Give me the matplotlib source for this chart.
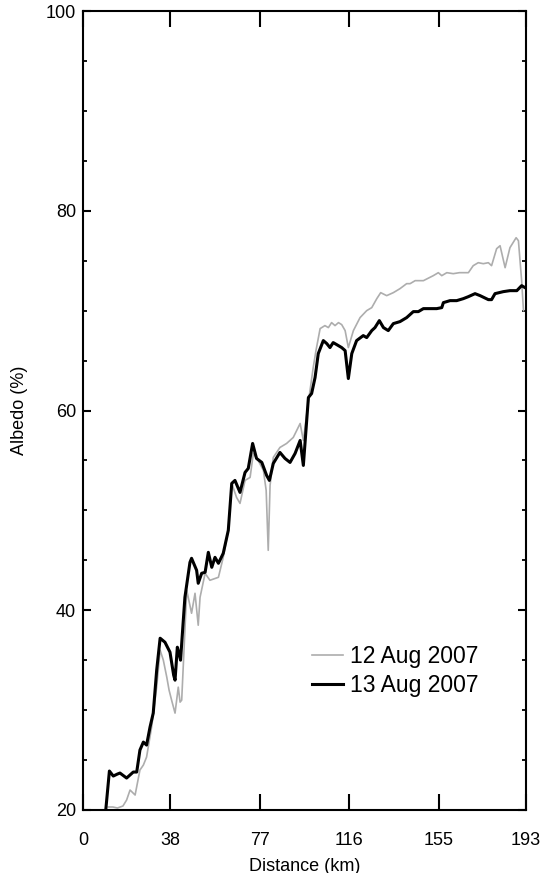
import matplotlib
matplotlib.use("Agg")
import matplotlib.pyplot as plt
from matplotlib.ticker import MultipleLocator, FixedLocator

plt.rcParams['font.family'] = ['Liberation Sans', 'DejaVu Sans']

# 13 Aug 2007 (black)
dist_13 = [10.0, 11.5, 13.2, 15.0, 16.1, 19.0, 21.9, 23.4, 24.8, 26.3, 27.7, 29.2, 30.6, 32.1,
           33.6, 35.7, 37.9, 39.5, 40.1, 41.1, 42.0, 42.5, 43.7, 44.4, 46.6, 47.3, 49.5, 50.2,
           51.7, 53.2, 54.6, 56.1, 57.5, 59.0, 61.1, 63.3, 64.8, 66.2, 68.4, 70.6, 72.0, 73.9,
           75.6, 77.9, 80.0, 81.2, 82.9, 85.8, 88.0, 90.2, 92.4, 94.6, 96.0, 98.2, 99.6, 101.1,
           102.5, 104.7, 106.2, 107.6, 109.0, 110.5, 112.7, 114.2, 115.6, 117.1, 119.2, 122.1,
           123.6, 125.8, 127.2, 129.1, 130.9, 133.0, 135.2, 138.1, 141.0, 143.9, 146.1, 148.3,
           151.2, 154.1, 156.3, 157.0, 159.9, 162.8, 165.7, 167.9, 170.8, 173.0, 176.6, 178.0,
           179.5, 183.1, 186.0, 189.0, 191.1, 192.6]
alb_13 = [20.2, 23.9, 23.4, 23.6, 23.7, 23.2, 23.8, 23.8, 26.0, 26.8, 26.5, 28.3, 29.7, 34.0,
          37.2, 36.8, 35.8, 33.5, 33.0, 36.3, 35.5, 35.0, 39.0, 41.3, 44.8, 45.2, 44.0, 42.7,
          43.7, 43.8, 45.8, 44.3, 45.3, 44.7, 45.7, 48.0, 52.7, 53.0, 51.8, 53.8, 54.2, 56.7,
          55.2, 54.8, 53.5, 53.0, 54.7, 55.8, 55.2, 54.8, 55.7, 57.0, 54.5, 61.3, 61.7, 63.3,
          65.7, 67.0, 66.7, 66.3, 66.8, 66.6, 66.3, 66.0, 63.2, 65.7, 67.0, 67.5,
          67.3, 68.0, 68.3, 69.0, 68.3, 68.0, 68.7, 68.9, 69.3, 69.9, 69.9, 70.2,
          70.2, 70.2, 70.3, 70.8, 71.0, 71.0, 71.2, 71.4, 71.7, 71.5, 71.1, 71.1,
          71.7, 71.9, 72.0, 72.0, 72.5, 72.3]

# 12 Aug 2007 (gray)
dist_12 = [11.0, 13.0, 15.0, 17.4, 19.0, 20.5, 22.7, 24.8, 26.3, 27.7, 29.9, 32.1, 33.6, 35.0,
           36.5, 37.5, 38.6, 40.1, 41.5, 42.3, 43.0, 45.2, 47.3, 48.8, 50.2, 51.0, 53.2, 55.3,
           59.0, 61.1, 63.3, 64.8, 66.9, 68.4, 70.6, 72.8, 74.2, 76.3, 78.6, 79.8, 80.7, 81.5,
           82.9, 85.8, 88.7, 91.6, 94.6, 96.0, 97.5, 98.9, 100.3, 101.5, 103.3, 105.4, 106.9,
           108.3, 109.8, 111.3, 112.7, 114.2, 115.6, 117.8, 120.7, 123.6, 125.8, 128.0, 129.7,
           132.3, 135.2, 138.1, 141.0, 142.5, 144.7, 146.1, 148.3, 152.6, 154.8, 156.3, 158.5,
           161.3, 164.0, 167.9, 170.0, 172.2, 174.4, 176.6, 178.0, 180.2, 181.7, 183.9, 186.0,
           188.7, 189.7, 191.1, 191.9]
alb_12 = [20.3, 20.3, 20.2, 20.4, 21.0, 22.0, 21.5, 24.0, 24.5, 25.3, 28.3, 32.3, 36.0, 35.0,
          33.3, 32.0, 31.0, 29.7, 32.3, 30.8, 31.0, 42.0, 39.7, 41.7, 38.5, 41.3, 43.7, 43.0,
          43.3, 45.3, 48.0, 52.7, 51.3, 50.7, 53.0, 53.3, 55.7, 55.0, 54.0, 52.0, 46.0, 52.5,
          55.3, 56.3, 56.7, 57.3, 58.7, 57.0, 59.7, 62.0, 64.3, 66.0, 68.2, 68.5, 68.3,
          68.8, 68.5, 68.8, 68.6, 68.0, 66.3, 68.0, 69.3, 70.0, 70.3, 71.2, 71.8,
          71.5, 71.8, 72.2, 72.7, 72.7, 73.0, 73.0, 73.0, 73.5, 73.8, 73.5, 73.8,
          73.7, 73.8, 73.8, 74.5, 74.8, 74.7, 74.8, 74.5, 76.2, 76.5, 74.3, 76.3,
          77.3, 77.0, 73.0, 70.0]

x_ticks = [0, 38, 77, 116, 155, 193]
y_ticks = [20, 40, 60, 80, 100]
labels = ['12 Aug 2007', '13 Aug 2007']

fig = plt.figure(figsize=(5.42, 8.73), dpi=100)
ax = fig.add_axes([83/542, 1 - 810/873, (526 - 83)/542, (810 - 11)/873])

ax.plot(dist_12, alb_12, color='#adadad', lw=1.2, label=labels[0], solid_joinstyle='round')
ax.plot(dist_13, alb_13, color='black', lw=2.2, label=labels[1], solid_joinstyle='round')

ax.set_xlim(0, 193)
ax.set_ylim(20, 100)
ax.xaxis.set_major_locator(FixedLocator(x_ticks))
ax.yaxis.set_major_locator(FixedLocator(y_ticks))
ax.yaxis.set_minor_locator(MultipleLocator(5))

for s in ax.spines.values():
    s.set_linewidth(1.5)

ax.tick_params(axis='x', which='major', direction='in', length=11.5, width=1.5,
               top=True, bottom=True, labelsize=13, pad=16)
ax.tick_params(axis='y', which='major', direction='in', length=6, width=1.5,
               left=True, right=True, labelsize=13, pad=5)
ax.tick_params(axis='y', which='minor', direction='in', length=3, width=1.3,
               left=True, right=True)

ax.set_xlabel('Distance (km)', fontsize=13, labelpad=6)
ax.set_ylabel('Albedo (%)', fontsize=13, labelpad=13)

ax.legend(loc='center left', bbox_to_anchor=(0.516, 0.174), frameon=False,
          fontsize=16.5, handlelength=1.39, handletextpad=0.3, labelspacing=0.25,
          borderpad=0, borderaxespad=0)

fig.savefig('out.png', dpi=100)
